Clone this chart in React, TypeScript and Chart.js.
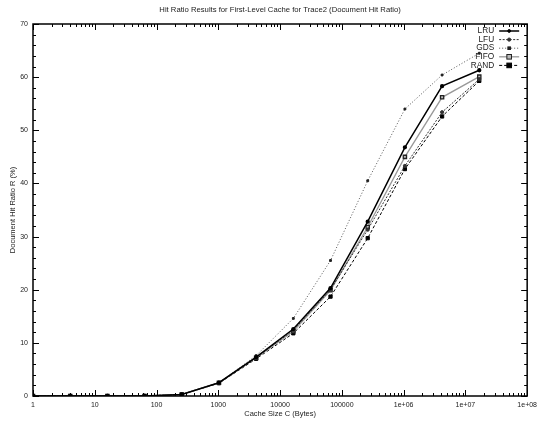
import React, { useEffect, useRef } from 'react';
import { Chart, registerables } from 'chart.js';

Chart.register(...registerables);

const cacheSizes = [1, 4, 16, 64, 256, 1024, 4096, 16384, 65536, 262144, 1048576, 4194304, 16777216];
const lruValues = [0, 0, 0, 0, 0.3, 2.5, 7.3, 12.6, 20.3, 32.8, 46.8, 58.3, 61.3];
const lfuValues = [0, 0, 0, 0, 0.3, 2.5, 7.2, 12.4, 20.0, 31.3, 43.3, 53.4, 59.6];
const gdsValues = [0, 0, 0, 0, 0.3, 2.5, 7.6, 14.6, 25.5, 40.5, 54.0, 60.4, 64.5];
const fifoValues = [0, 0, 0, 0, 0.3, 2.5, 7.2, 12.2, 19.9, 31.8, 45.0, 56.2, 60.1];
const randValues = [0, 0, 0, 0, 0.3, 2.4, 7.0, 11.8, 18.7, 29.7, 42.7, 52.6, 59.3];
const seriesNames = ['LRU', 'LFU', 'GDS', 'FIFO', 'RAND'];

const xTickValues = [1, 10, 100, 1000, 10000, 100000, 1000000, 10000000, 100000000];
const xTickLabels = ['1', '10', '100', '1000', '10000', '100000', '1e+06', '1e+07', '1e+08'];
const yTickValues = [0, 10, 20, 30, 40, 50, 60, 70];

const titleText = 'Hit Ratio Results for First-Level Cache for Trace2 (Document Hit Ratio)';
const xTitleText = 'Cache Size C (Bytes)';
const yTitleText = 'Document Hit Ratio R (%)';

const FONT = "'Liberation Sans', Arial, sans-serif";
const TEXT = '#222';

const toPoints = (vals: number[]) => vals.map((v, i) => ({ x: cacheSizes[i], y: v }));

const boxPlugin = {
  id: 'gnuplotBox',
  afterDraw(chart: any) {
    const { ctx, chartArea: a, scales } = chart;
    const xs = scales.x;
    const ys = scales.y;
    ctx.save();
    // title centred over the plot area
    ctx.fillStyle = TEXT;
    ctx.font = `7.7px ${FONT}`;
    ctx.textAlign = 'center';
    ctx.textBaseline = 'middle';
    ctx.fillText(titleText, (a.left + a.right) / 2, 10);

    ctx.strokeStyle = '#000';
    ctx.lineWidth = 1;
    // x ticks
    for (let d = 0; d <= 8; d++) {
      for (let m = 1; m <= 9; m++) {
        const v = m * Math.pow(10, d);
        if (v > 1e8) break;
        const px = Math.round(xs.getPixelForValue(v)) + 0.5;
        const len = m === 1 ? 6 : 3;
        ctx.beginPath();
        ctx.moveTo(px, a.bottom);
        ctx.lineTo(px, a.bottom - len);
        ctx.moveTo(px, a.top);
        ctx.lineTo(px, a.top + len);
        ctx.stroke();
      }
    }
    // y ticks
    for (let v = 0; v <= 70; v += 2) {
      const py = Math.round(ys.getPixelForValue(v)) + 0.5;
      const len = v % 10 === 0 ? 6 : 3;
      ctx.beginPath();
      ctx.moveTo(a.left, py);
      ctx.lineTo(a.left + len, py);
      ctx.moveTo(a.right, py);
      ctx.lineTo(a.right - len, py);
      ctx.stroke();
    }
    ctx.lineWidth = 1.5;
    ctx.strokeRect(a.left, a.top, a.right - a.left, a.bottom - a.top);

    // legend
    const textRight = a.right - 33;
    const lineStart = a.right - 28;
    const lineEnd = a.right - 8;
    ctx.font = `8.3px ${FONT}`;
    ctx.textAlign = 'right';
    ctx.textBaseline = 'middle';
    chart.data.datasets.forEach((ds: any, i: number) => {
      const y = a.top + 7 + i * 8.6;
      ctx.fillStyle = TEXT;
      ctx.fillText(ds.label, textRight, y);
      ctx.strokeStyle = ds.borderColor;
      ctx.lineWidth = ds.borderWidth;
      ctx.setLineDash(ds.borderDash || []);
      ctx.beginPath();
      ctx.moveTo(lineStart, y);
      ctx.lineTo(lineEnd, y);
      ctx.stroke();
      ctx.setLineDash([]);
      const cx = (lineStart + lineEnd) / 2;
      const r = ds.pointRadius;
      ctx.fillStyle = ds.pointBackgroundColor;
      ctx.strokeStyle = ds.pointBorderColor;
      ctx.lineWidth = 1;
      if (ds.pointStyle === 'rect') {
        ctx.fillRect(cx - r, y - r, 2 * r, 2 * r);
        ctx.strokeRect(cx - r, y - r, 2 * r, 2 * r);
      } else {
        ctx.beginPath();
        ctx.arc(cx, y, r, 0, Math.PI * 2);
        ctx.fill();
        ctx.stroke();
      }
    });
    ctx.restore();
  },
};

export default function App() {
  const ref = useRef<HTMLCanvasElement | null>(null);
  useEffect(() => {
    if (!ref.current) return;
    const chart = new Chart(ref.current, {
      type: 'line',
      data: {
        datasets: [
          {
            label: seriesNames[0], data: toPoints(lruValues),
            borderColor: '#000', borderWidth: 1.5, pointStyle: 'circle', pointRadius: 1.4,
            pointBackgroundColor: '#000', pointBorderColor: '#000',
          },
          {
            label: seriesNames[1], data: toPoints(lfuValues),
            borderColor: '#333', borderWidth: 1, borderDash: [2, 1.5], pointStyle: 'circle', pointRadius: 1.6,
            pointBackgroundColor: '#333', pointBorderColor: '#333',
          },
          {
            label: seriesNames[2], data: toPoints(gdsValues),
            borderColor: '#555', borderWidth: 1, borderDash: [1, 2], pointStyle: 'rect', pointRadius: 1.3,
            pointBackgroundColor: '#222', pointBorderColor: '#222',
          },
          {
            label: seriesNames[3], data: toPoints(fifoValues),
            borderColor: '#999', borderWidth: 1.3, pointStyle: 'rect', pointRadius: 2.3,
            pointBackgroundColor: '#bbb', pointBorderColor: '#222',
          },
          {
            label: seriesNames[4], data: toPoints(randValues),
            borderColor: '#000', borderWidth: 1, borderDash: [3, 2], pointStyle: 'rect', pointRadius: 2.3,
            pointBackgroundColor: '#000', pointBorderColor: '#000',
          },
        ] as any,
      },
      options: {
        responsive: false,
        animation: false,
        layout: { padding: { right: 14, top: 24, left: 0, bottom: 0 } },
        plugins: {
          legend: { display: false },
          tooltip: { enabled: false },
          title: { display: false },
        },
        scales: {
          x: {
            type: 'logarithmic',
            min: 1,
            max: 1e8,
            grid: { display: false, drawTicks: false },
            border: { display: false },
            afterBuildTicks: (scale: any) => {
              scale.ticks = xTickValues.map((v) => ({ value: v }));
            },
            afterFit: (scale: any) => {
              scale.height = 29;
            },
            ticks: {
              autoSkip: false,
              maxRotation: 0,
              padding: 5,
              color: TEXT,
              font: { family: FONT, size: 7 },
              callback: (v: any) => {
                const idx = xTickValues.indexOf(Number(v));
                return idx >= 0 ? xTickLabels[idx] : '';
              },
            },
            title: {
              display: true,
              text: xTitleText,
              color: TEXT,
              font: { family: FONT, size: 7.5 },
              padding: { top: 2, bottom: 7 },
            },
          },
          y: {
            type: 'linear',
            min: 0,
            max: 70,
            grid: { display: false, drawTicks: false },
            border: { display: false },
            afterBuildTicks: (scale: any) => {
              scale.ticks = yTickValues.map((v) => ({ value: v }));
            },
            afterFit: (scale: any) => {
              scale.width = 33;
            },
            ticks: {
              padding: 5,
              color: TEXT,
              font: { family: FONT, size: 7 },
            },
            title: {
              display: true,
              text: yTitleText,
              color: TEXT,
              font: { family: FONT, size: 7.5 },
              padding: { top: 8, bottom: 2 },
            },
          },
        },
      },
      plugins: [boxPlugin],
    });
    return () => chart.destroy();
  }, []);
  return (
    <div style={{ position: 'fixed', left: 0, top: 0, width: 542, height: 425, background: '#fff' }}>
      <canvas ref={ref} width={542} height={425} style={{ display: 'block' }} />
    </div>
  );
}
